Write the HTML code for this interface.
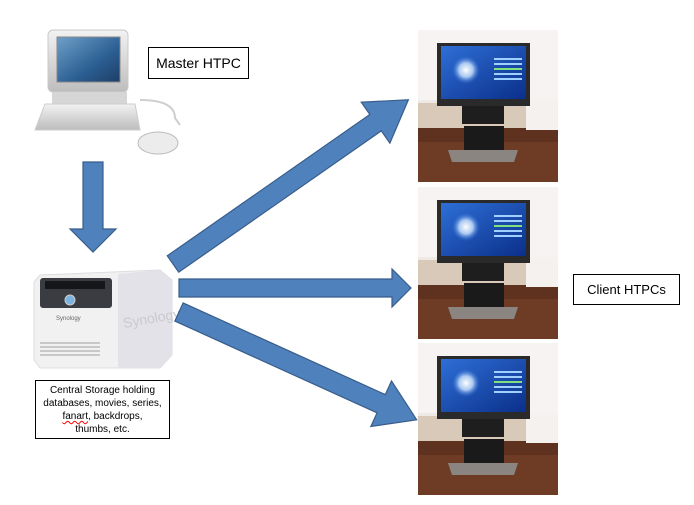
<!DOCTYPE html>
<html><head><meta charset="utf-8"><style>
body{margin:0;background:#fff;width:694px;height:505px;overflow:hidden;font-family:"Liberation Sans",sans-serif;}
.box{position:absolute;border:1px solid #000;background:#fff;text-align:center;color:#000;}
</style></head><body>
<svg width="694" height="505" style="position:absolute;left:0;top:0">
<defs>
<linearGradient id="scr" x1="0" y1="0" x2="1" y2="1"><stop offset="0" stop-color="#6fa0c8"/><stop offset="0.6" stop-color="#2c5f93"/><stop offset="1" stop-color="#1d3e66"/></linearGradient>
<linearGradient id="gry" x1="0" y1="0" x2="0" y2="1"><stop offset="0" stop-color="#f2f2f2"/><stop offset="1" stop-color="#bdbdbd"/></linearGradient>
<linearGradient id="tvs" x1="0" y1="0" x2="1" y2="1"><stop offset="0" stop-color="#2e6fd6"/><stop offset="1" stop-color="#0b2f8a"/></linearGradient>
<radialGradient id="glow" cx="0.5" cy="0.5" r="0.5"><stop offset="0" stop-color="#fff"/><stop offset="0.5" stop-color="#cfe6ff" stop-opacity="0.8"/><stop offset="1" stop-color="#3b7be0" stop-opacity="0"/></radialGradient>
<g id="tv">
 <rect x="0" y="0" width="140" height="152" fill="#efe9e6"/>
 <rect x="0" y="0" width="140" height="70" fill="#f6f3f2"/>
 <rect x="0" y="73" width="140" height="25" fill="#d9c9b8"/>
 <rect x="0" y="98" width="140" height="54" fill="#5e321f"/>
 <rect x="0" y="112" width="140" height="40" fill="#6e3b25"/>
 <rect x="108" y="70" width="32" height="30" fill="#f4f1ee"/>
 <rect x="19" y="13" width="93" height="63" fill="#2a2a2a"/>
 <rect x="23" y="16" width="85" height="53" fill="url(#tvs)"/>
 <circle cx="48" cy="40" r="14" fill="url(#glow)"/>
 <rect x="76" y="28" width="28" height="2" fill="#9fd0ff"/>
 <rect x="76" y="33" width="28" height="2" fill="#9fd0ff"/>
 <rect x="76" y="38" width="28" height="2" fill="#7fe07f"/>
 <rect x="76" y="43" width="28" height="2" fill="#9fd0ff"/>
 <rect x="76" y="48" width="28" height="2" fill="#9fd0ff"/>
 <rect x="44" y="76" width="42" height="18" fill="#1e1e1e"/>
 <rect x="46" y="96" width="40" height="30" fill="#1a1a1a"/>
 <path d="M30 120 L100 120 L96 132 L34 132Z" fill="#8a8580"/>
</g>
</defs>
<!-- computer -->
<rect x="48" y="30" width="80" height="62" rx="5" fill="url(#gry)" stroke="#c8c8c8"/>
<rect x="57" y="37" width="63" height="45" fill="url(#scr)" stroke="#888"/>
<rect x="52" y="92" width="75" height="12" fill="#d6d6d6"/>
<path d="M45 104 L135 104 L140 130 L35 130Z" fill="url(#gry)" stroke="#ccc"/>
<path d="M140 100 Q175 100 175 118 L180 125" fill="none" stroke="#cfcfcf" stroke-width="2"/>
<ellipse cx="158" cy="143" rx="20" ry="11" fill="#ececec" stroke="#bbb"/>
<!-- NAS -->
<path d="M40 275 L160 270 L172 280 L172 355 L160 368 L40 368 L34 360 L34 282Z" fill="#f1f1f1" stroke="#ddd"/>
<path d="M118 274 L160 270 L172 280 L172 355 L160 368 L118 368Z" fill="#e2e2e8"/>
<rect x="40" y="278" width="72" height="30" rx="3" fill="#3a3c42"/>
<rect x="45" y="281" width="60" height="8" fill="#15161a"/>
<circle cx="70" cy="300" r="5" fill="#7bb4e0" stroke="#ccc"/>
<text x="56" y="320" font-size="6" fill="#666">Synology</text>
<text x="124" y="328" font-size="14" fill="#c9c9d0" transform="rotate(-10 124 328)">Synology</text>
<g fill="#c8c8c8"><rect x="40" y="342" width="60" height="2"/><rect x="40" y="346" width="60" height="2"/><rect x="40" y="350" width="60" height="2"/><rect x="40" y="354" width="60" height="2"/></g>
<!-- TVs -->
<use href="#tv" x="418" y="30"/>
<use href="#tv" x="418" y="187"/>
<use href="#tv" x="418" y="343"/>
<!-- arrows -->
<g fill="#4f81bd" stroke="#385d8a" stroke-width="1.2">
<polygon points="83,162 103,162 103,229 116,229 93,252 70,229 83,229"/>
<polygon transform="translate(173,264) rotate(-34.9)" points="0,-10 247,-10 247,-25 287,0 247,25 247,10 0,10"/>
<polygon points="179,279 392,279 392,269 411,288 392,307 392,297 179,297"/>
<polygon transform="translate(179,312) rotate(24.4)" points="0,-10 222,-10 222,-25 261,0 222,25 222,10 0,10"/>
</g>
</svg>
<div class="box" style="left:148px;top:47px;width:99px;height:30px;line-height:30px;font-size:14px;">Master HTPC</div>
<div class="box" style="left:35px;top:380px;width:135px;height:59px;font-size:10px;line-height:13px;padding-top:3px;box-sizing:border-box;white-space:nowrap;">Central Storage holding<br>databases, movies, series,<br><span style="text-decoration:underline wavy red">fanart</span>, backdrops,<br>thumbs, etc.</div>
<div class="box" style="left:573px;top:274px;width:105px;height:29px;line-height:29px;font-size:13px;">Client HTPCs</div>
</body></html>
